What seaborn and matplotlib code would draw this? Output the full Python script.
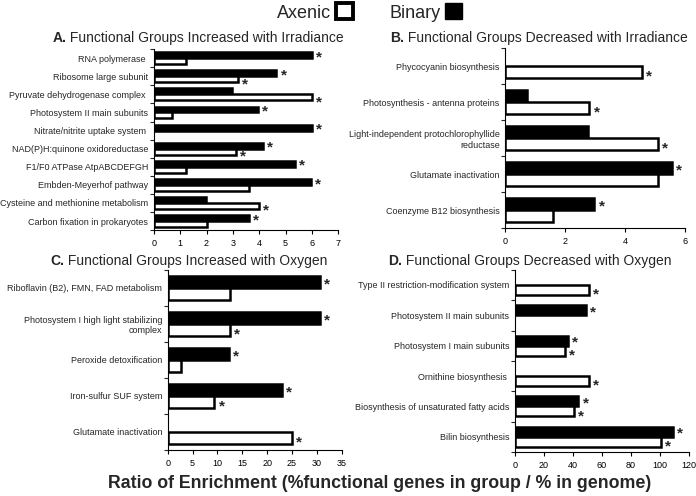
import matplotlib
matplotlib.use("Agg")
import matplotlib.pyplot as plt
from matplotlib.patches import Patch
import numpy as np
import pandas as pd
import seaborn as sns

# Panel A: increased with irradiance
groups_a = ["RNA polymerase ", "Ribosome large subunit", "Pyruvate dehydrogenase complex ",
            "Photosystem II main subunits", "Nitrate/nitrite uptake system ",
            "NAD(P)H:quinone oxidoreductase", "F1/F0 ATPase AtpABCDEFGH",
            "Embden-Meyerhof pathway", "Cysteine and methionine metabolism",
            "Carbon fixation in prokaryotes"]
binary_a = [6.0, 4.65, 2.97, 3.95, 6.0, 4.14, 5.35, 5.96, 1.97, 3.61]
axenic_a = [1.23, 3.19, 6.0, 0.68, None, 3.13, 1.23, 3.61, 3.99, 2.03]
star_bin_a = [1, 1, 0, 1, 1, 1, 1, 1, 0, 1]
star_ax_a = [0, 1, 1, 0, 0, 1, 0, 0, 1, 0]

# Panel B: decreased with irradiance
groups_b = ["Phycocyanin biosynthesis", "Photosynthesis - antenna proteins",
            "Light-independent protochlorophyllide\nreductase", "Glutamate inactivation",
            "Coenzyme B12 biosynthesis"]
binary_b = [None, 0.72, 2.78, 5.56, 2.98]
axenic_b = [4.56, 2.81, 5.11, 5.1, 1.58]
star_bin_b = [0, 0, 0, 1, 1]
star_ax_b = [1, 1, 1, 0, 0]

# Panel C: increased with oxygen
groups_c = ["Riboflavin (B2), FMN, FAD metabolism",
            "Photosystem I high light stabilizing\ncomplex", "Peroxide detoxification",
            "Iron-sulfur SUF system", "Glutamate inactivation"]
binary_c = [30.6, 30.6, 12.3, 23.0, None]
axenic_c = [12.5, 12.5, 2.6, 9.4, 24.9]
star_bin_c = [1, 1, 1, 1, 0]
star_ax_c = [0, 1, 0, 1, 1]

# Panel D: decreased with oxygen
groups_d = ["Type II restriction-modification system", "Photosystem II main subunits",
            "Photosystem I main subunits", "Ornithine biosynthesis ",
            "Biosynthesis of unsaturated fatty acids", "Bilin biosynthesis"]
binary_d = [None, 48.7, 36.7, None, 43.7, 108.7]
axenic_d = [51.0, None, 34.4, 51.0, 40.8, 100.8]
star_bin_d = [0, 1, 1, 0, 1, 1]
star_ax_d = [1, 0, 1, 1, 1, 1]

sns.set_style("white")
plt.rcParams["font.family"] = ["Liberation Sans", "DejaVu Sans"]

BAR_W = 0.65


def panel(ax, groups, binary, axenic, sb, sa, xmax, step):
    df = pd.DataFrame({
        "group": groups * 2,
        "culture": ["Binary"] * len(groups) + ["Axenic"] * len(groups),
        "value": binary + axenic,
    })
    df["value"] = pd.to_numeric(df["value"])
    sns.barplot(data=df, x="value", y="group", hue="culture", hue_order=["Binary", "Axenic"],
                order=groups, palette={"Binary": "black", "Axenic": "white"},
                edgecolor="black", linewidth=1.8, width=BAR_W, legend=False, ax=ax)
    n = len(groups)
    # asterisks mark significant changes; binary star a bit higher than axenic
    for i in range(n):
        for vals, stars, off, dy in ((binary, sb, -BAR_W / 4, -1.5), (axenic, sa, BAR_W / 4, -3.5)):
            if stars[i] and vals[i] is not None:
                ax.annotate("*", (vals[i], i + off), xytext=(3, dy), textcoords="offset points",
                            ha="left", va="center", fontsize=11, fontweight="bold")
    ax.set_xlim(0, xmax)
    ax.set_ylim(n - 0.5, -0.5)
    ax.set_xticks(np.arange(0, xmax + step / 2, step))
    ax.set_yticks(np.arange(-0.5, n, 1), minor=True)
    ax.tick_params(axis="y", which="major", length=0, labelsize=6.5, pad=4)
    ax.tick_params(axis="y", which="minor", length=3, width=0.8, left=True, direction="out")
    ax.tick_params(axis="x", which="major", length=3, width=0.8, bottom=True,
                   direction="out", labelsize=6.5, colors="black")
    ax.set_xlabel("")
    ax.set_ylabel("")
    sns.despine(ax=ax)
    for s in ("left", "bottom"):
        ax.spines[s].set_color("black")
        ax.spines[s].set_linewidth(0.8)


fig = plt.figure(figsize=(6.96, 4.96), dpi=100)
ax_a = fig.add_axes([0.221, 0.536, 0.265, 0.365])
ax_b = fig.add_axes([0.726, 0.540, 0.258, 0.363])
ax_c = fig.add_axes([0.241, 0.093, 0.250, 0.363])
ax_d = fig.add_axes([0.740, 0.089, 0.250, 0.367])

panel(ax_a, groups_a, binary_a, axenic_a, star_bin_a, star_ax_a, 7, 1)
panel(ax_b, groups_b, binary_b, axenic_b, star_bin_b, star_ax_b, 6, 2)
panel(ax_c, groups_c, binary_c, axenic_c, star_bin_c, star_ax_c, 35, 5)
panel(ax_d, groups_d, binary_d, axenic_d, star_bin_d, star_ax_d, 120, 20)

titles = [("A.", "Functional Groups Increased with Irradiance", 0.075, 0.915),
          ("B.", "Functional Groups Decreased with Irradiance", 0.560, 0.915),
          ("C.", "Functional Groups Increased with Oxygen", 0.072, 0.466),
          ("D.", "Functional Groups Decreased with Oxygen", 0.557, 0.466)]
for letter, rest, x, y in titles:
    t = fig.text(x, y, letter, fontsize=10, fontweight="bold", ha="left", va="baseline")
    fig.add_artist(plt.Annotation(" " + rest, xy=(1, 0), xycoords=t, fontsize=10,
                                  ha="left", va="bottom", annotation_clip=False))

handles = [Patch(facecolor="white", edgecolor="black", linewidth=2.8),
           Patch(facecolor="black", edgecolor="black")]
fig.legend(handles, ["Axenic", "Binary"], loc="center", bbox_to_anchor=(0.531, 0.975),
           ncol=2, frameon=False, markerfirst=False, fontsize=13, handlelength=0.95,
           handleheight=1.0, columnspacing=2.0, handletextpad=0.25, borderpad=0.2)

fig.text(0.546, 0.026, "Ratio of Enrichment (%functional genes in group / % in genome)",
         fontsize=12.8, fontweight="bold", ha="center", va="center")

fig.savefig("out.png", dpi=100)
